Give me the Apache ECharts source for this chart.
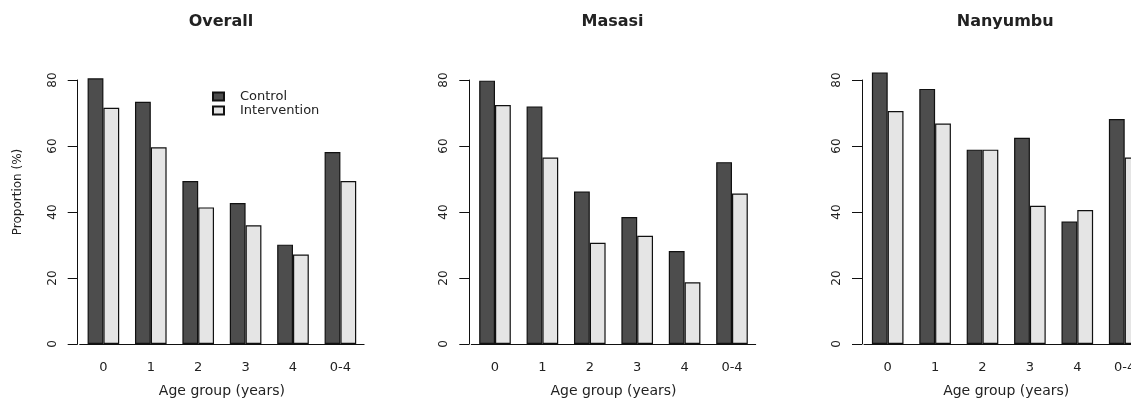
<!DOCTYPE html>
<html>
<head>
<meta charset="utf-8">
<script src="https://cdn.jsdelivr.net/npm/echarts@6/dist/echarts.min.js"></script>
<style>
html,body{margin:0;padding:0;background:#fff;}
#chart{width:1131px;height:398px;}
</style>
</head>
<body>
<div id="chart"></div>
<script>
const categories = ['0', '1', '2', '3', '4', '0-4'];
const seriesNames = ['Control', 'Intervention'];
const panelTitles = ['Overall', 'Masasi', 'Nanyumbu'];
const overallControl = [80.5, 73.4, 49.4, 42.7, 30.1, 58.2];
const overallIntervention = [71.6, 59.6, 41.4, 36.0, 27.1, 49.4];
const masasiControl = [79.8, 72.0, 46.2, 38.5, 28.2, 55.1];
const masasiIntervention = [72.4, 56.5, 30.7, 32.8, 18.7, 45.6];
const nanyumbuControl = [82.3, 77.3, 58.9, 62.5, 37.1, 68.2];
const nanyumbuIntervention = [70.6, 66.8, 58.9, 41.9, 40.6, 56.5];
const yTicks = [0, 20, 40, 60, 80];
const xAxisTitle = 'Age group (years)';
const yAxisTitle = 'Proportion (%)';

const panelData = [
  [overallControl, overallIntervention],
  [masasiControl, masasiIntervention],
  [nanyumbuControl, nanyumbuIntervention]
];

const FONT = 'DejaVu Sans';
const gridLefts = [79.7, 471.3, 864];
const gridW = 284.4, gridTop = 80, gridBottomY = 344;
const colors = ['#4d4d4d', '#e5e5e5'];

const grids = [], xAxes = [], yAxes = [], series = [], graphics = [];
panelData.forEach((pd, i) => {
  grids.push({left: gridLefts[i], top: gridTop, width: gridW, height: gridBottomY - gridTop,
    containLabel: false, outerBoundsMode: 'none'});
  xAxes.push({
    type: 'category', gridIndex: i, data: categories,
    axisLine: {lineStyle: {color: '#111', width: 1}},
    axisTick: {alignWithLabel: true, length: 6, lineStyle: {color: '#111'}},
    axisLabel: {color: '#222', fontFamily: FONT, fontSize: 13, margin: 17},
    name: xAxisTitle, nameLocation: 'middle', nameGap: 40,
    nameTextStyle: {color: '#222', fontFamily: FONT, fontSize: 14}
  });
  yAxes.push({
    type: 'value', gridIndex: i, min: yTicks[0], max: yTicks[yTicks.length - 1],
    interval: yTicks[1] - yTicks[0], offset: 2,
    splitLine: {show: false},
    axisLine: {show: true, lineStyle: {color: '#111', width: 1}},
    axisTick: {show: true, length: 10, lineStyle: {color: '#111'}},
    axisLabel: {rotate: 90, color: '#222', fontFamily: FONT, fontSize: 12, margin: 19}
  });
  pd.forEach((vals, s) => {
    series.push({
      type: 'bar', name: seriesNames[s], xAxisIndex: i, yAxisIndex: i, data: vals,
      clip: false, barGap: '0%', barCategoryGap: '33.3%',
      itemStyle: {color: colors[s], borderColor: '#111', borderWidth: 1.2},
      emphasis: {disabled: true}, animation: false
    });
  });
  graphics.push({
    type: 'text', x: gridLefts[i] + gridW / 2 - 1, y: 22,
    style: {text: panelTitles[i], fill: '#222', font: 'bold 16px "' + FONT + '"', align: 'center', verticalAlign: 'middle'}
  });
});
graphics.push({
  type: 'text', x: 18, y: 192, rotation: Math.PI / 2,
  style: {text: yAxisTitle, fill: '#222', font: '12px "' + FONT + '"', align: 'center', verticalAlign: 'middle'}
});

const chart = echarts.init(document.getElementById('chart'), null, {renderer: 'canvas'});
chart.setOption({
  animation: false,
  backgroundColor: '#fff',
  grid: grids, xAxis: xAxes, yAxis: yAxes, series: series,
  legend: {
    data: seriesNames, orient: 'vertical', left: 207, top: 85,
    itemWidth: 11, itemHeight: 8, itemGap: 1, icon: 'rect',
    textStyle: {color: '#222', fontFamily: FONT, fontSize: 13, padding: [0, 0, 0, 11]},
    selectedMode: false
  },
  graphic: graphics
});
</script>
</body>
</html>
